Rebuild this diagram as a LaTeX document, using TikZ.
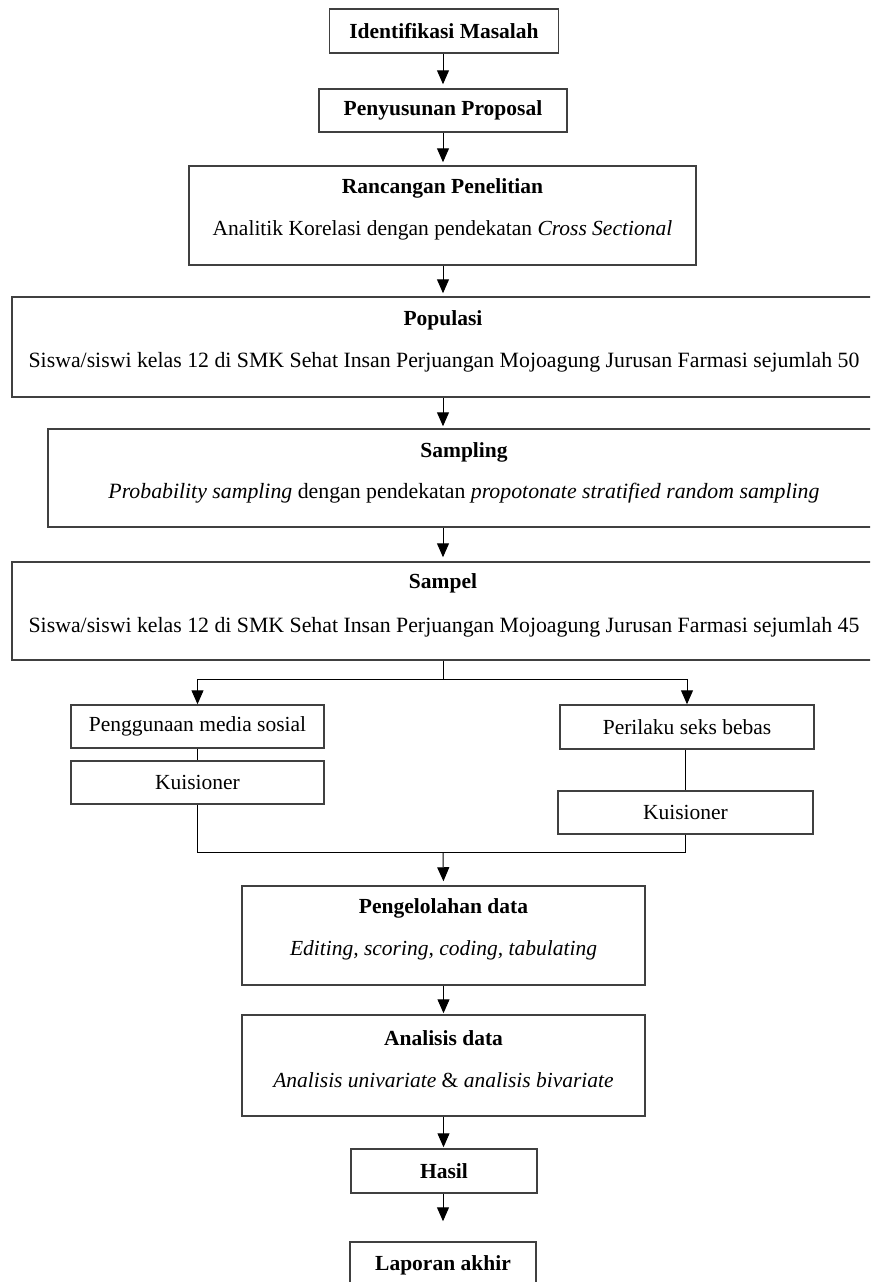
\documentclass[tikz,border=0pt]{standalone}
\usepackage{fontspec}
\setmainfont{Liberation Serif}
\usetikzlibrary{arrows.meta}
\begin{document}
\begin{tikzpicture}[x=1pt,y=-1pt,
  box/.style={draw=black!75, line width=1.5pt, rectangle, inner sep=0pt, font=\fontsize{21.5}{26}\selectfont},
  bbox/.style={box, font=\fontsize{21.5}{26}\selectfont\bfseries},
  txt/.style={inner sep=0pt, font=\fontsize{21.5}{26}\selectfont},
  wide/.style={inner sep=0pt, font=\fontsize{21.8}{26}\selectfont},
  ttl/.style={inner sep=0pt, font=\fontsize{21.5}{26}\selectfont\bfseries},
  conn/.style={line width=1pt, draw=black},
  arr/.style={conn, -{Triangle[length=14pt,width=12pt]}},
]
\clip (0,0) rectangle (870,1282);
\useasboundingbox (0,0) rectangle (870,1282);

% boxes
\node[bbox, minimum width=229pt, minimum height=44pt] (ident) at (444,31) {Identifikasi Masalah};
\node[bbox, minimum width=248pt, minimum height=43pt] (prop) at (443,110.5) {Penyusunan Proposal};
\node[box, minimum width=507pt, minimum height=99pt] (ranc) at (442.5,215.5) {};
\node[ttl] (rancT) at (442.5,188) {Rancangan Penelitian};
\node[txt] (rancB) at (442.5,230) {Analitik Korelasi dengan pendekatan \textit{Cross Sectional}};

\node[box, minimum width=862pt, minimum height=100pt] (pop) at (443,347) {};
\node[ttl] (popT) at (443,320) {Populasi};
\node[wide] (popB) at (444,362) {Siswa/siswi kelas 12 di SMK Sehat Insan Perjuangan Mojoagung Jurusan Farmasi sejumlah 50};

\node[box, minimum width=832pt, minimum height=98pt] (samp) at (464,478) {};
\node[ttl] (sampT) at (464,452) {Sampling};
\node[wide] (sampB) at (464,493) {\textit{Probability sampling} dengan pendekatan \textit{propotonate stratified random sampling}};

\node[box, minimum width=862pt, minimum height=98pt] (sampel) at (443,611) {};
\node[ttl] (sampelT) at (443,583) {Sampel};
\node[wide] (sampelB) at (444,627) {Siswa/siswi kelas 12 di SMK Sehat Insan Perjuangan Mojoagung Jurusan Farmasi sejumlah 45};

\node[box, minimum width=253pt, minimum height=43pt] (guna) at (197.5,726.5) {Penggunaan media sosial};
\node[box, minimum width=253pt, minimum height=43pt] (kuis1) at (197.5,782.5) {Kuisioner};
\node[box, minimum width=254pt, minimum height=44pt] (peri) at (687,727) {Perilaku seks bebas};
\node[box, minimum width=255pt, minimum height=43pt] (kuis2) at (685.5,812.5) {Kuisioner};

\node[box, minimum width=403pt, minimum height=99pt] (olah) at (443.5,935.5) {};
\node[ttl] (olahT) at (443.5,908) {Pengelolahan data};
\node[txt] (olahB) at (443.5,950) {\textit{Editing, scoring, coding, tabulating}};

\node[box, minimum width=403pt, minimum height=101pt] (anal) at (443.5,1065.5) {};
\node[ttl] (analT) at (443.5,1038) {Analisis data};
\node[txt] (analB) at (443.5,1080) {\textit{Analisis univariate} \& \textit{analisis bivariate}};

\node[bbox, minimum width=186pt, minimum height=44pt] (hasil) at (444,1171) {Hasil};
\node[box, minimum width=186pt, minimum height=60pt] (lapor) at (443,1272) {};
\node[ttl] (laporT) at (443,1265) {Laporan akhir};

% connectors
\draw[arr, shorten >=4pt] (prop.north |- ident.south) -- (prop.north);
\draw[arr, shorten >=3pt] (prop.south) -- (prop.south |- ranc.north);
\draw[arr, shorten >=3pt] (ranc.south -| pop.north) -- (pop.north);
\draw[arr, shorten >=2pt] (pop.south) -- (pop.south |- samp.north);
\draw[arr, shorten >=4pt] (pop.south |- samp.south) -- (sampel.north);
\coordinate (split) at (443,679);
\draw[conn] (sampel.south) -- (split);
\draw[arr] (split) -| (guna.north);
\draw[arr] (split) -| (peri.north);
\draw[conn] (guna.south) -- (kuis1.north);
\draw[conn] (kuis2.north |- peri.south) -- (kuis2.north);
\coordinate (join) at (443,852);
\draw[conn] (kuis1.south) |- (join);
\draw[conn] (kuis2.south) |- (join);
\draw[arr, shorten >=4pt] (join) -- (olah.north);
\draw[arr, shorten >=1pt] (olah.south) -- (anal.north);
\draw[arr, shorten >=1pt] (anal.south) -- (hasil.north -| anal.south);
\draw[arr, shorten >=20pt] (hasil.south -| lapor.north) -- (lapor.north);
\end{tikzpicture}
\end{document}
